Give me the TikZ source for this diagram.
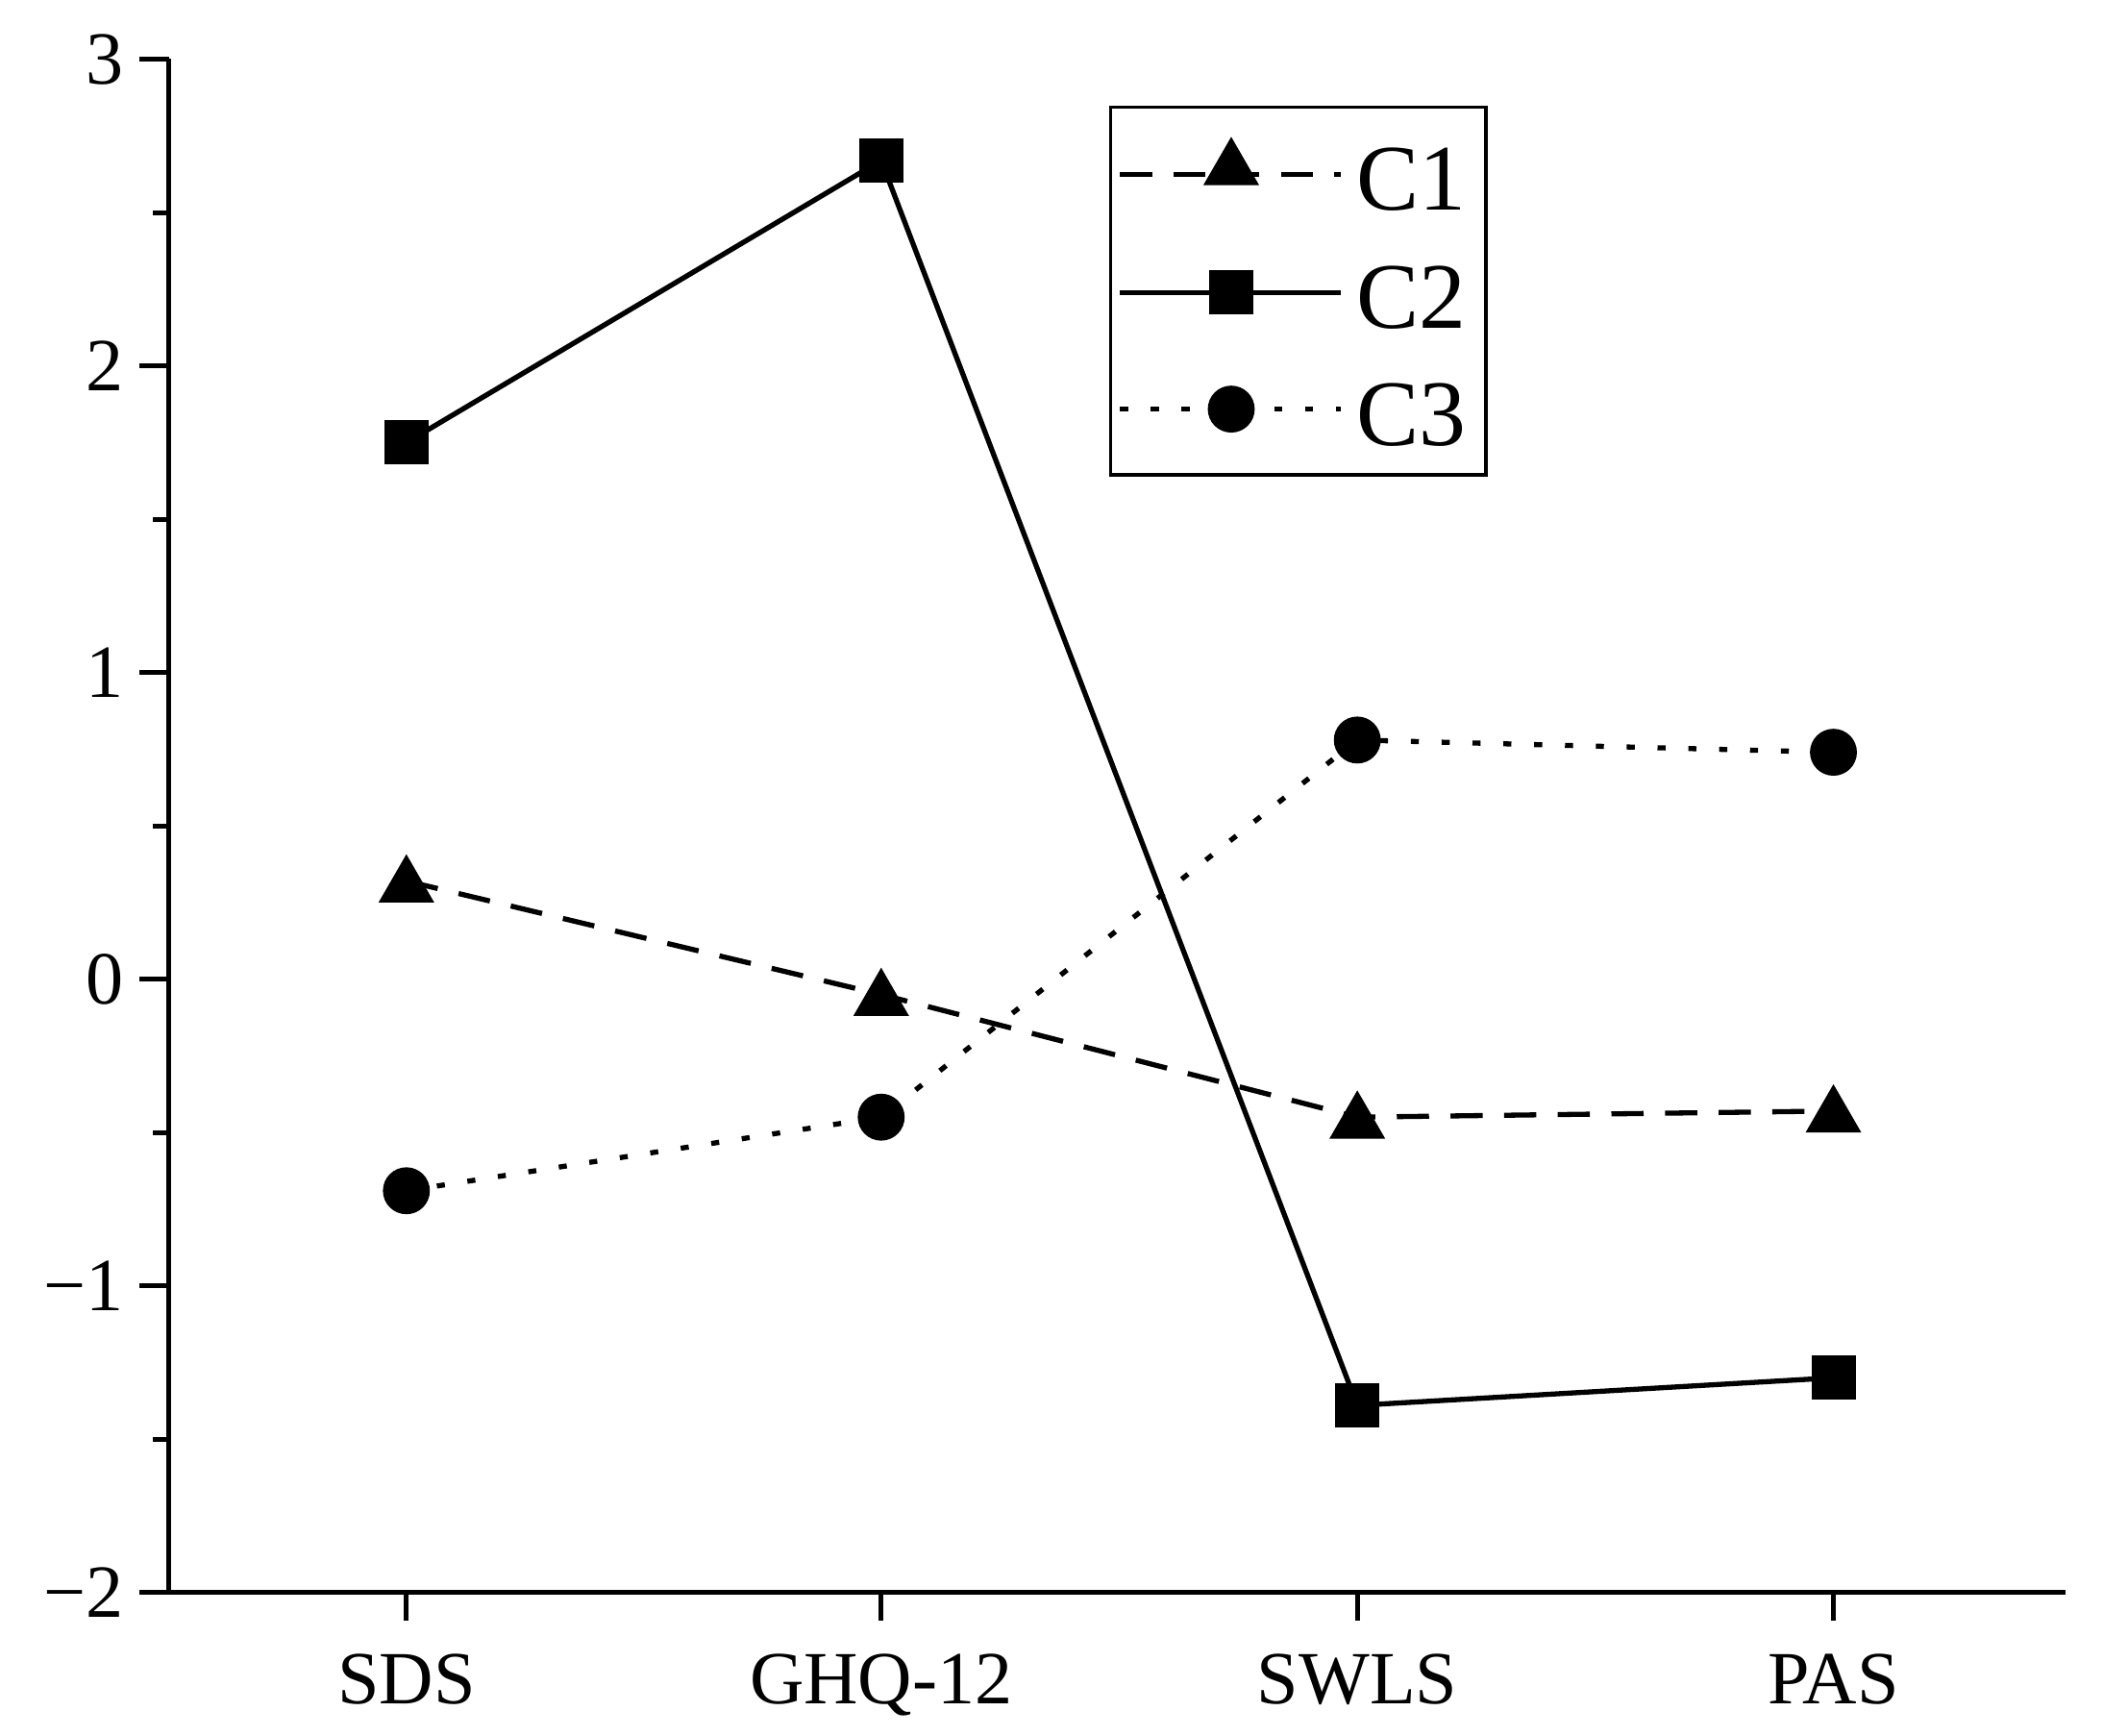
\documentclass[tikz,border=0pt]{standalone}
\usepackage{fontspec}
\usetikzlibrary{shapes.geometric}
\setmainfont{Liberation Serif}
\begin{document}
\begin{tikzpicture}[x=1pt,y=-1pt,
 ax/.style={line width=3.5pt},
 mk/.style={fill=black,draw=none},
 tri/.style={mk,regular polygon,regular polygon sides=3,minimum size=48pt,inner sep=0pt},
 sq/.style={mk,rectangle,minimum size=33pt,inner sep=0pt},
 ci/.style={mk,circle,minimum size=35pt,inner sep=0pt},
 ser/.style={line width=3.8pt},
 tl/.style={font=\fontsize{56}{56}\selectfont},
 lg/.style={font=\fontsize{70}{70}\selectfont,anchor=west}]
\useasboundingbox (0,0) rectangle (1568,1294);
\def\Y#1{730-228.6*(#1)}
% axes
\draw[ax] (126,44) -- (126,1187) -- (1540,1187);
\foreach \v/\s in {-2/{\char"2212 2},-1/{\char"2212 1},0/0,1/1,2/2,3/3}{
 \draw[ax] (126,{\Y{\v}}) -- (104,{\Y{\v}});
 \node[tl,anchor=east] at (96,{\Y{\v}}) {\s};}
\foreach \v in {-1.5,-0.5,0.5,1.5,2.5}
 \draw[ax] (126,{\Y{\v}}) -- (114,{\Y{\v}});
\foreach \x/\t in {303/SDS,657/GHQ-12,1012/SWLS,1367/PAS}{
 \draw[ax] (\x,1187) -- (\x,1208);
 \node[tl,anchor=base] at (\x,1270) {\t};}
% data
\foreach \x/\a/\b/\c [count=\i] in {303/0.32/1.75/-0.69,657/-0.05/2.67/-0.45,1012/-0.45/-1.39/0.78,1367/-0.43/-1.30/0.74}{
 \coordinate (a\i) at (\x,{\Y{\a}});
 \coordinate (b\i) at (\x,{\Y{\b}});
 \coordinate (c\i) at (\x,{\Y{\c}});}
\draw[ser,dash pattern=on 24pt off 16pt] (a1)--(a2)--(a3)--(a4);
\draw[ser] (b1)--(b2)--(b3)--(b4);
\draw[ser,dash pattern=on 6pt off 17pt] (c1)--(c2)--(c3)--(c4);
\foreach \i in {1,...,4}{
 \node[tri] at ([yshift=-4pt]a\i) {};
 \node[sq] at (b\i) {};
 \node[ci] at (c\i) {};}
% legend
\draw[line width=2.5pt] (828,80) rectangle (1108,354);
\coordinate (l1a) at (835,130); \coordinate (l1b) at (1000,130);
\coordinate (l2a) at (835,218); \coordinate (l2b) at (1000,218);
\coordinate (l3a) at (835,305); \coordinate (l3b) at (1000,305);
\draw[ser,dash pattern=on 24pt off 16pt] (l1a)--(l1b);
\draw[ser] (l2a)--(l2b);
\draw[ser,dash pattern=on 6pt off 17pt] (l3a)--(l3b);
\node[tri] at (918,126) {};
\node[sq] at (918,218) {};
\node[ci] at (918,305) {};
\node[lg] at (1008,134) {C1};
\node[lg] at (1008,222) {C2};
\node[lg] at (1008,309) {C3};
\end{tikzpicture}
\end{document}
